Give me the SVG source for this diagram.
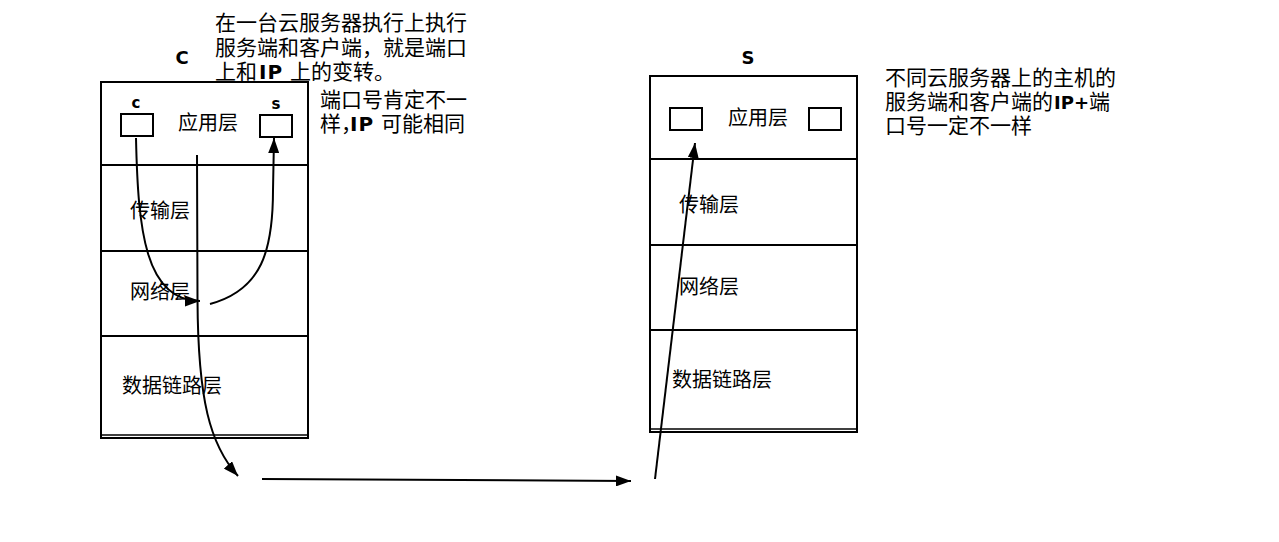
<svg xmlns="http://www.w3.org/2000/svg" width="1279" height="542" viewBox="0 0 1279 542">
<style>
.cjk{font-family:"Noto Sans CJK SC","Noto Sans",sans-serif;fill:#000}
.ann{font-size:21px}
.lay{font-size:20px}
.lat{font-family:"DejaVu Sans","Liberation Sans",sans-serif;font-weight:bold;fill:#000}
.ip{font-size:18px}
.ipw{font-size:20px}
.box{fill:none;stroke:#000;stroke-width:2}
.thin{fill:none;stroke:#000;stroke-width:1.5}
.con{fill:none;stroke:#000;stroke-width:2}
</style>
<defs>
<marker id="ah" viewBox="0 0 15 11" refX="15" refY="5.5" markerWidth="15" markerHeight="11" orient="auto" markerUnits="userSpaceOnUse">
<path d="M0,0 L15,5.5 L0,11 z" fill="#000"/>
</marker>
</defs>
<rect width="1279" height="542" fill="#fff"/>

<g id="hostC">
<text class="lat" x="182" y="64" font-size="18" text-anchor="middle">C</text>
<rect class="box" x="101" y="82" width="207" height="356"/>
<line class="box" x1="101" y1="165" x2="308" y2="165"/>
<line class="box" x1="101" y1="251" x2="308" y2="251"/>
<line class="box" x1="101" y1="336" x2="308" y2="336"/>
<line class="thin" x1="101" y1="435" x2="308" y2="435"/>
<text class="lat" x="136" y="108" font-size="15" text-anchor="middle">c</text>
<rect class="box" x="121" y="114" width="32" height="22"/>
<text class="lat" x="276" y="109" font-size="15" text-anchor="middle">s</text>
<rect class="box" x="260" y="115" width="32" height="22"/>
<text class="cjk lay" x="178" y="130">应用层</text>
<text class="cjk lay" x="130" y="218">传输层</text>
<text class="cjk lay" x="130" y="299">网络层</text>
<text class="cjk lay" x="122" y="393">数据链路层</text>
</g>

<g id="hostS">
<text class="lat" x="748" y="64" font-size="18" text-anchor="middle">S</text>
<rect class="box" x="650" y="76" width="207" height="356"/>
<line class="box" x1="650" y1="159" x2="857" y2="159"/>
<line class="box" x1="650" y1="245" x2="857" y2="245"/>
<line class="box" x1="650" y1="330" x2="857" y2="330"/>
<line class="thin" x1="650" y1="429" x2="857" y2="429"/>
<rect class="box" x="670" y="108" width="32" height="22"/>
<rect class="box" x="809" y="108" width="32" height="22"/>
<text class="cjk lay" x="728" y="125">应用层</text>
<text class="cjk lay" x="679" y="212">传输层</text>
<text class="cjk lay" x="679" y="294">网络层</text>
<text class="cjk lay" x="672" y="387">数据链路层</text>
</g>

<g id="noteSameServer">
<text class="cjk ann" x="215" y="30">在一台云服务器执行上执行<tspan x="215" y="55">服务端和客户端，就是端口</tspan><tspan x="215" y="79">上和</tspan><tspan class="lat ipw" x="259" letter-spacing="1">IP</tspan><tspan x="290">上的变转。</tspan></text>
</g>

<g id="notePort">
<text class="cjk ann" x="320" y="107">端口号肯定不一<tspan x="320" y="131">样，</tspan><tspan class="lat ipw" x="350" letter-spacing="1">IP</tspan><tspan x="381">可能相同</tspan></text>
</g>

<g id="noteDiffServer">
<text class="cjk ann" x="885" y="85">不同云服务器上的主机的<tspan x="885" y="109">服务端和客户端的</tspan><tspan class="lat ip" x="1054">IP+</tspan><tspan x="1089">端</tspan><tspan x="885" y="133">口号一定不一样</tspan></text>
</g>

<g id="connectors">
<path class="con" d="M136,138 C138,230 145,301 200,301" marker-end="url(#ah)"/>
<path class="con" d="M210,304 C262,290 273,250 273,190 L274,138" marker-end="url(#ah)"/>
<path class="con" d="M197,155 L197.5,300 C198,400 210,445 238,476" marker-end="url(#ah)"/>
<path class="con" d="M262,479 L631,481" marker-end="url(#ah)"/>
<path class="con" d="M655,479 L695,143" marker-end="url(#ah)"/>
</g>
</svg>
